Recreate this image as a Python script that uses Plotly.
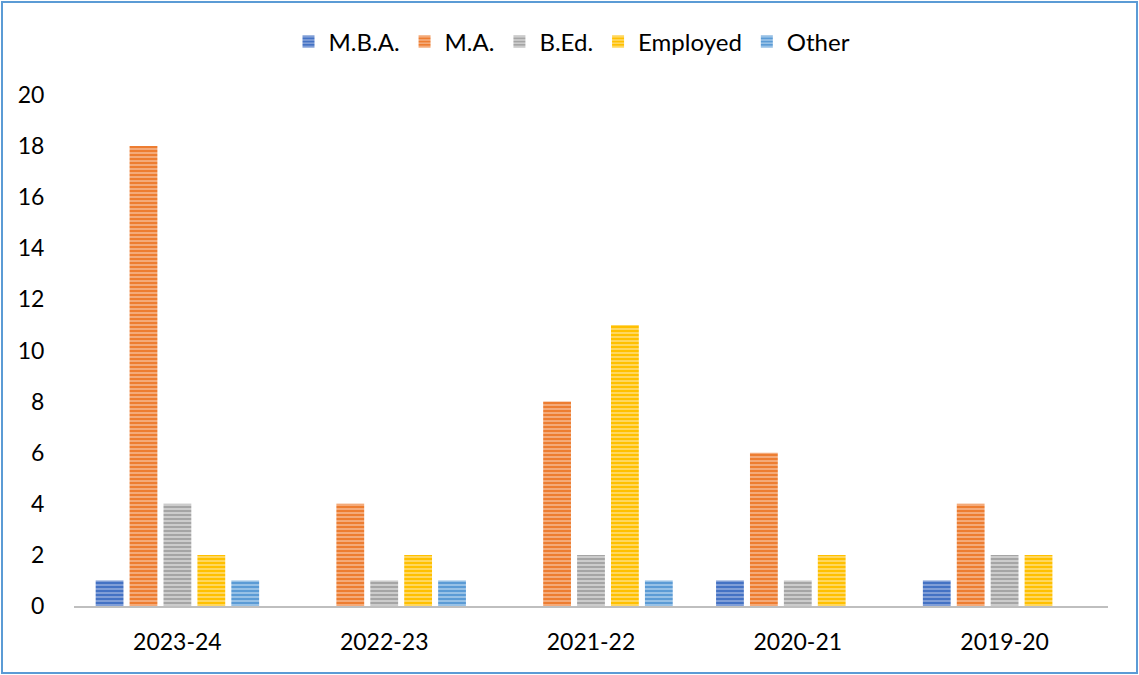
import plotly.graph_objects as go

years = ["2023-24", "2022-23", "2021-22", "2020-21", "2019-20"]
mba = [1, 0, 0, 1, 1]
ma = [18, 4, 8, 6, 4]
bed = [4, 1, 2, 1, 2]
employed = [2, 2, 11, 2, 2]
other = [1, 1, 1, 0, 0]

series = [
    ("M.B.A.", mba, "#4472C4", "#8FAADC"),
    ("M.A.", ma, "#ED7D31", "#F6B68C"),
    ("B.Ed.", bed, "#A5A5A5", "#D6D6D6"),
    ("Employed", employed, "#FFC000", "#FFDD77"),
    ("Other", other, "#5B9BD5", "#A7CBEB"),
]

W, H = 1139, 675
ML, MR, MT, MB = 74, 31, 95, 69
FONT = "Lato"

fig = go.Figure()
for name, vals, base, light in series:
    fig.add_trace(go.Bar(
        name=name, x=years, y=vals,
        marker=dict(
            color=base,
            line=dict(width=0),
            pattern=dict(shape="-", size=4, solidity=0.4,
                         fgcolor=light, bgcolor=base, fillmode="replace"),
        ),
    ))

pw = W - ML - MR
ph = H - MT - MB
fig.add_shape(type="rect", xref="paper", yref="paper",
              x0=(2 - ML) / pw, x1=(W - 2 - ML) / pw,
              y0=-(H - 2 - MT - ph) / ph, y1=(MT - 2) / ph + 1,
              line=dict(color="#5B9BD5", width=2), fillcolor="rgba(0,0,0,0)")

legend_y = (H - 42 - MB) / ph
legend_x = 0.5 - 19 / pw

fig.update_layout(
    width=W, height=H,
    margin=dict(l=ML, r=MR, t=MT, b=MB, pad=0),
    paper_bgcolor="white", plot_bgcolor="white",
    barmode="group", bargap=0.18, bargroupgap=0.18,
    font=dict(family=FONT, size=23, color="#000000"),
    legend=dict(orientation="h", x=legend_x, xanchor="center", y=legend_y, yanchor="middle",
                font=dict(size=24), itemwidth=30, traceorder="normal"),
    showlegend=True,
)
fig.update_xaxes(showline=True, linecolor="#BFBFBF", linewidth=2, ticks="outside",
                 ticklen=14, tickcolor="rgba(0,0,0,0)", showgrid=False, zeroline=False)
fig.update_yaxes(range=[0, 20], dtick=2, showline=False, showgrid=False, zeroline=False,
                 ticks="outside", ticklen=24, tickcolor="rgba(0,0,0,0)")

fig.write_html("out.html", config={"displayModeBar": False},
               post_script="document.body.style.margin='0';window.dispatchEvent(new Event('resize'));")
